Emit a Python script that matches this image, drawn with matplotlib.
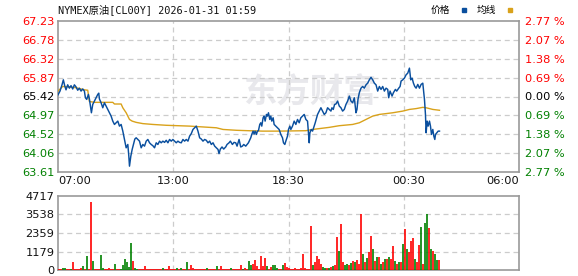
#!/usr/bin/env python3
import numpy as np
import matplotlib
matplotlib.use('Agg')
import matplotlib.pyplot as plt
from matplotlib.patches import Rectangle

# ---- data (minutes after 07:00) ----
price_min = [0, 6, 12, 16, 20, 24, 29, 34, 39, 44, 49, 54, 59, 64, 69, 74, 79, 82, 86, 91,
             94, 97, 100, 104, 109, 114, 119, 122, 124, 129, 134, 139, 144, 149, 154, 159, 164, 169, 174, 179,
             184, 189, 194, 199, 204, 209, 212, 214, 218, 222, 226, 230, 234, 239, 244, 249, 254, 259, 264, 269,
             274, 279, 284, 289, 294, 299, 304, 309, 314, 319, 324, 329, 334, 339, 344, 349, 354, 359, 364, 369,
             374, 379, 384, 389, 394, 399, 404, 409, 414, 419, 424, 429, 434, 439, 444, 449, 454, 459, 464, 469,
             474, 479, 482, 486, 491, 496, 502, 506, 512, 516, 522, 527, 532, 536, 542, 547, 552, 556, 562, 566,
             570, 577, 580, 584, 587, 590, 594, 597, 600, 604, 607, 610, 614, 617, 620, 624, 627, 630, 634, 637,
             640, 644, 647, 652, 657, 662, 667, 672, 675, 679, 682, 687, 690, 694, 697, 702, 707, 712, 717, 722,
             727, 732, 737, 742, 747, 750, 752, 754, 758, 762, 767, 770, 774, 777, 782, 787, 792, 797, 802, 807,
             812, 817, 820, 824, 828, 832, 837, 842, 847, 852, 857, 862, 867, 872, 877, 882, 887, 892, 895, 898,
             902, 907, 912, 917, 922, 927, 932, 937, 942, 947, 952, 957, 962, 967, 972, 977, 982, 987, 990, 994,
             1000, 1004, 1010, 1014, 1020, 1024, 1027, 1032, 1037, 1042, 1047, 1052, 1056, 1060, 1064, 1068, 1072, 1077, 1082, 1087,
             1092, 1097, 1100, 1102, 1105, 1108, 1112, 1115, 1118, 1122, 1125, 1128, 1130, 1134, 1138, 1142]
price_val = [65.46, 65.55, 65.70, 65.82, 65.68, 65.58, 65.70, 65.62, 65.68, 65.60, 65.70, 65.65, 65.57, 65.62, 65.55, 65.60, 65.55, 65.39, 65.35, 65.47,
             65.36, 65.19, 65.03, 65.23, 65.31, 65.39, 65.47, 65.50, 65.36, 65.27, 65.15, 65.27, 65.19, 65.11, 65.03, 64.95, 64.83, 64.75, 64.79, 64.83,
             64.71, 64.75, 64.59, 64.39, 64.19, 64.27, 63.99, 63.75, 63.99, 64.15, 64.27, 64.40, 64.43, 64.39, 64.35, 64.19, 64.27, 64.23, 64.35, 64.39,
             64.31, 64.27, 64.24, 64.19, 64.31, 64.27, 64.35, 64.31, 64.35, 64.32, 64.37, 64.31, 64.39, 64.35, 64.39, 64.35, 64.31, 64.35, 64.32, 64.31,
             64.39, 64.35, 64.39, 64.35, 64.47, 64.53, 64.63, 64.67, 64.71, 64.59, 64.43, 64.40, 64.35, 64.39, 64.37, 64.31, 64.35, 64.27, 64.31, 64.23,
             64.19, 64.15, 64.05, 64.16, 64.21, 64.16, 64.21, 64.27, 64.31, 64.35, 64.27, 64.32, 64.31, 64.23, 64.39, 64.21, 64.23, 64.27, 64.23, 64.27,
             64.31, 64.43, 64.51, 64.59, 64.52, 64.59, 64.51, 64.59, 64.60, 64.75, 64.79, 64.71, 64.91, 64.95, 64.83, 64.99, 64.95, 65.03, 64.87, 64.95,
             64.83, 64.91, 64.75, 64.71, 64.67, 64.63, 64.51, 64.43, 64.31, 64.27, 64.35, 64.47, 64.63, 64.71, 64.63, 64.71, 64.83, 64.75, 64.87, 64.79,
             64.91, 64.95, 64.99, 64.87, 64.83, 64.51, 64.31, 64.55, 64.63, 64.59, 64.71, 64.79, 64.91, 64.99, 65.07, 65.15, 65.07, 64.99, 65.03, 65.15,
             65.11, 65.07, 65.15, 65.11, 65.23, 65.24, 65.31, 65.19, 65.15, 65.07, 65.11, 65.23, 65.31, 65.43, 65.31, 65.27, 65.39, 65.03, 65.11, 65.35,
             65.51, 65.62, 65.66, 65.62, 65.70, 65.74, 65.82, 65.88, 65.82, 65.74, 65.70, 65.55, 65.66, 65.59, 65.66, 65.55, 65.62, 65.59, 65.39, 65.55,
             65.43, 65.51, 65.59, 65.55, 65.62, 65.66, 65.79, 65.82, 65.86, 65.94, 65.98, 66.10, 65.82, 65.86, 65.74, 65.66, 65.62, 65.71, 65.62, 65.71,
             65.74, 65.35, 64.99, 64.55, 64.83, 64.71, 64.83, 64.71, 64.51, 64.63, 64.47, 64.39, 64.51, 64.55, 64.59, 64.59]

avg_min = [0, 14, 34, 54, 79, 89, 94, 109, 164, 169, 189, 194, 204, 214, 222, 234, 254, 284, 324, 394,
           474, 494, 534, 570, 612, 662, 742, 762, 812, 842, 882, 902, 922, 942, 962, 1002, 1032, 1052, 1072, 1092,
           1102, 1122, 1142]
avg_val = [65.55, 65.66, 65.65, 65.63, 65.58, 65.57, 65.30, 65.28, 65.28, 65.24, 65.24, 65.15, 65.03, 64.87, 64.83, 64.80, 64.77, 64.75, 64.73, 64.71,
           64.67, 64.63, 64.61, 64.60, 64.59, 64.59, 64.60, 64.63, 64.68, 64.72, 64.75, 64.79, 64.87, 64.95, 64.99, 65.03, 65.07, 65.11, 65.13, 65.16,
           65.15, 65.11, 65.09]

# volume every 6 minutes, negative = falling bar (green)
vol = [40, 40, -150, -150, 40, 40, -40, 490, 40, 40,
       40, 100, -240, 40, -880, 40, 4330, -560, 40, 40,
       40, -940, -150, 40, 40, 150, 40, 40, -365, 40,
       40, -60, -320, -690, -490, -200, -1710, 560, -150, -60,
       40, 40, 40, 240, 40, 40, 40, 40, 40, 40,
       40, 40, -150, 40, 40, 240, 40, 40, 40, -100,
       40, -100, 40, 40, -490, 40, 320, 100, 40, 40,
       40, 40, 40, 40, -100, 40, 40, 40, 40, -240,
       40, 240, 40, 40, 40, 40, -100, 40, 40, 40,
       40, 320, -60, 100, 40, -560, -320, 365, 640, 240,
       60, 880, 250, 750, -250, 60, 200, -320, -320, -150,
       60, 60, -300, 430, 200, 100, 60, 60, 100, 60,
       60, 100, 1010, 100, 60, 60, 2800, -300, 500, 920,
       700, 400, -200, -150, 100, -150, 200, -250, 300, 2090,
       -1200, 2930, 500, -300, -400, 350, -450, 600, -500, 650,
       400, 3560, -1020, 490, -750, 1150, 2160, -1340, 600, -810,
       810, -380, 490, -700, 700, -810, 700, 1520, -600, 400,
       -490, 490, -1660, 2600, -1340, 1130, 1820, 2030, -700, 490,
       1600, -2740, 380, -3010, -3560, 2700, -1330, 1180, -1020, -620,
       620]
vol_min = [6 * i for i in range(len(vol))]

price_ticks = [63.61, 64.06, 64.52, 64.97, 65.42, 65.87, 66.32, 66.78, 67.23]
pct_labels = ['2.77%', '2.07%', '1.38%', '0.69%', '0.00%', '0.69%', '1.38%', '2.07%', '2.77%']
vol_ticks = [0, 1179, 2359, 3538, 4717]
x_labels = ['07:00', '13:00', '18:30', '00:30', '06:00']
x_label_min = [0, 345, 690, 1050, 1380]
x_grid_min = [345, 690, 1035]
total_min = 1380

RED = '#ff0000'
GREEN = '#008000'
BLUE = '#0a4f9e'
GOLD = '#d9a21b'
GRID = '#cccccc'
FRAME = '#999999'

W, H = 578, 276
fig = plt.figure(figsize=(W / 100, H / 100), dpi=100)


def box(l, t, r, b):
	return [l / W, 1 - b / H, (r - l) / W, (b - t) / H]


ax = fig.add_axes(box(58, 21, 519, 172))
axv = fig.add_axes(box(58, 196, 519, 270))

for a in (ax, axv):
	a.set_xlim(0, total_min)
	for s in a.spines.values():
		s.set_color(FRAME)
		s.set_linewidth(1.2)
	a.tick_params(length=0)
	for gx in x_grid_min:
		a.axvline(gx, color=GRID, lw=0.9, ls=(0, (4, 3)), zorder=1)

# price panel
ax.set_ylim(price_ticks[0], price_ticks[-1])
for p in price_ticks[1:-1]:
	ax.axhline(p, color=GRID, lw=0.9, ls=(0, (4, 3)), zorder=1)

# watermark
ax.text(252 / 461 * total_min, 65.51, '东方财富', fontsize=24, fontweight='bold',
		color='#e8e8ec', ha='center', va='center', zorder=0,
		family=['Noto Sans CJK SC', 'DejaVu Sans'])

ax.plot(avg_min, avg_val, color=GOLD, lw=1.0, zorder=3)
ax.plot(price_min, price_val, color=BLUE, lw=1.05, zorder=4)

mid = len(price_ticks) // 2
colors = [GREEN] * mid + ['#000000'] + [RED] * mid
ax.set_yticks(price_ticks)
ax.set_yticklabels([f'{p:.2f}' for p in price_ticks], fontsize=8.2)
for lab, c in zip(ax.get_yticklabels(), colors):
	lab.set_color(c)
ax.tick_params(axis='y', pad=2.5)

axr = ax.twinx()
axr.set_ylim(ax.get_ylim())
axr.set_yticks(price_ticks)
axr.set_yticklabels([l.replace('%', ' %') for l in pct_labels], fontsize=8.2)
for lab, c in zip(axr.get_yticklabels(), colors):
	lab.set_color(c)
axr.tick_params(length=0, pad=4)
for s in axr.spines.values():
	s.set_visible(False)

ax.set_xticks(x_label_min)
ax.set_xticklabels(x_labels, fontsize=8.2, color='#111111')
ax.tick_params(axis='x', pad=3)
xl = ax.get_xticklabels()
xl[0].set_ha('left')
xl[-1].set_ha('right')

# volume panel
axv.set_ylim(0, vol_ticks[-1])
for v in vol_ticks[1:-1]:
	axv.axhline(v, color=GRID, lw=0.9, ls=(0, (4, 3)), zorder=1)
vol_arr = np.array(vol, dtype=float)
vx = np.array(vol_min, dtype=float) + 2
up = vol_arr > 0
axv.vlines(vx[up], 0, vol_arr[up], colors=RED, lw=1.2, zorder=3)
axv.vlines(vx[~up], 0, -vol_arr[~up], colors=GREEN, lw=1.2, zorder=3)
axv.set_yticks(vol_ticks)
axv.set_yticklabels([str(v) for v in vol_ticks], fontsize=8.2, color='#111111')
axv.tick_params(axis='y', pad=2.5)
axv.set_xticks([])

# header
fig.text(58 / W, 1 - 10 / H, 'NYMEX原油[CL00Y] 2026-01-31 01:59', fontsize=7.4,
		 va='center', ha='left', color='#111111',
		 family=['DejaVu Sans Mono', 'Noto Sans CJK SC'])
fig.text(431 / W, 1 - 10 / H, '价格', fontsize=7, va='center', ha='left',
		 family=['Noto Sans CJK SC', 'DejaVu Sans'])
fig.text(477 / W, 1 - 10 / H, '均线', fontsize=7, va='center', ha='left',
		 family=['Noto Sans CJK SC', 'DejaVu Sans'])
fig.patches.append(Rectangle((462 / W, 1 - 12 / H), 4 / W, 4 / H, color=BLUE, transform=fig.transFigure, figure=fig))
fig.patches.append(Rectangle((508 / W, 1 - 12 / H), 4 / W, 4 / H, color=GOLD, transform=fig.transFigure, figure=fig))

fig.savefig('out.png', dpi=100)
